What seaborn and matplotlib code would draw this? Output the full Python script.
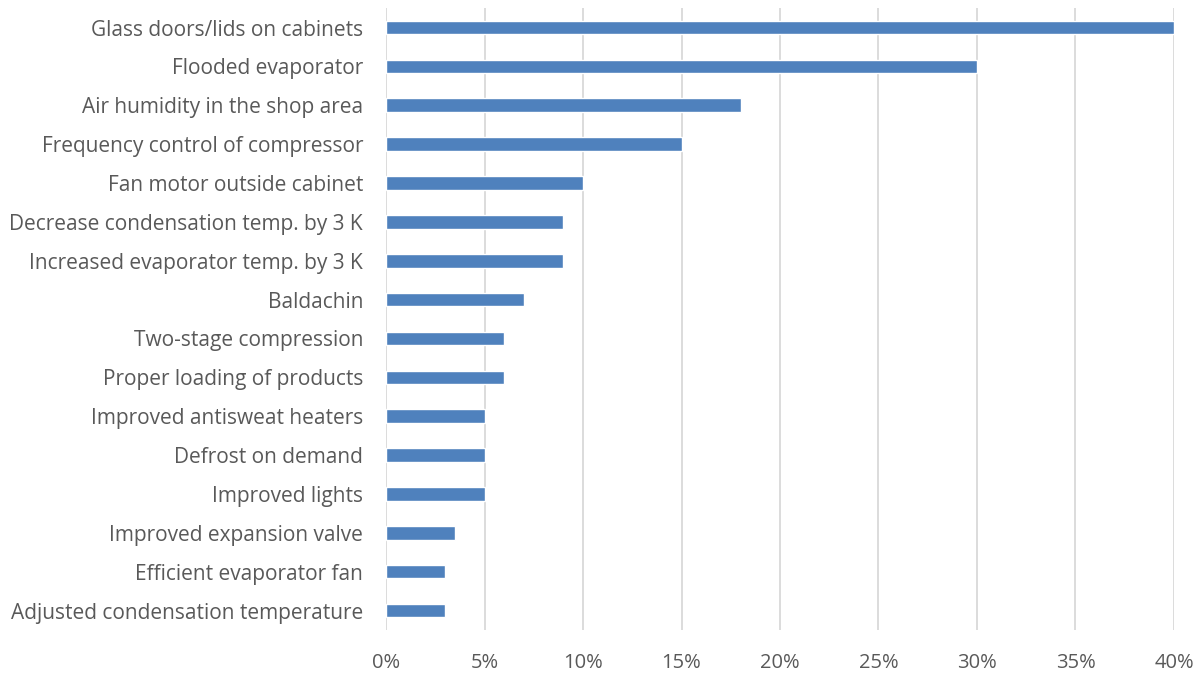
import matplotlib
matplotlib.use("Agg")
import matplotlib.pyplot as plt
from matplotlib.ticker import PercentFormatter
import seaborn as sns
import pandas as pd

measures = [
    "Glass doors/lids on cabinets",
    "Flooded evaporator",
    "Air humidity in the shop area",
    "Frequency control of compressor",
    "Fan motor outside cabinet",
    "Decrease condensation temp. by 3 K",
    "Increased evaporator temp. by 3 K",
    "Baldachin",
    "Two-stage compression",
    "Proper loading of products",
    "Improved antisweat heaters",
    "Defrost on demand",
    "Improved lights",
    "Improved expansion valve",
    "Efficient evaporator fan",
    "Adjusted condensation temperature",
]
savings = [40, 30, 18, 15, 10, 9, 9, 7, 6, 6, 5, 5, 5, 3.5, 3, 3]
x_ticks = [0, 5, 10, 15, 20, 25, 30, 35, 40]

df = pd.DataFrame({"measure": measures, "saving": savings})

sns.set_theme(style="white")
plt.rcParams["font.family"] = ["Open Sans", "DejaVu Sans"]

fig = plt.figure(figsize=(12, 6.73), dpi=100)
ax = fig.add_axes([0.3217, 0.0639, 0.6566, 0.9241])

sns.barplot(data=df, x="saving", y="measure", orient="h", color="#4F81BD",
            saturation=1, width=0.35, ax=ax)

ax.set_xlim(0, 40)
ax.set_ylim(len(measures) - 0.5, -0.5)
ax.set_xticks(x_ticks)
ax.xaxis.set_major_formatter(PercentFormatter(decimals=0))
ax.grid(axis="x", color="#D9D9D9", linewidth=1.3)
ax.set_axisbelow(True)
for s in ax.spines.values():
    s.set_visible(False)
ax.set_xlabel("")
ax.set_ylabel("")
ax.tick_params(axis="x", colors="#595959", labelsize=14.5, length=0, pad=16.5)
ax.tick_params(axis="y", colors="#595959", labelsize=15, length=0, pad=16.5)

fig.savefig("out.png", dpi=100)
